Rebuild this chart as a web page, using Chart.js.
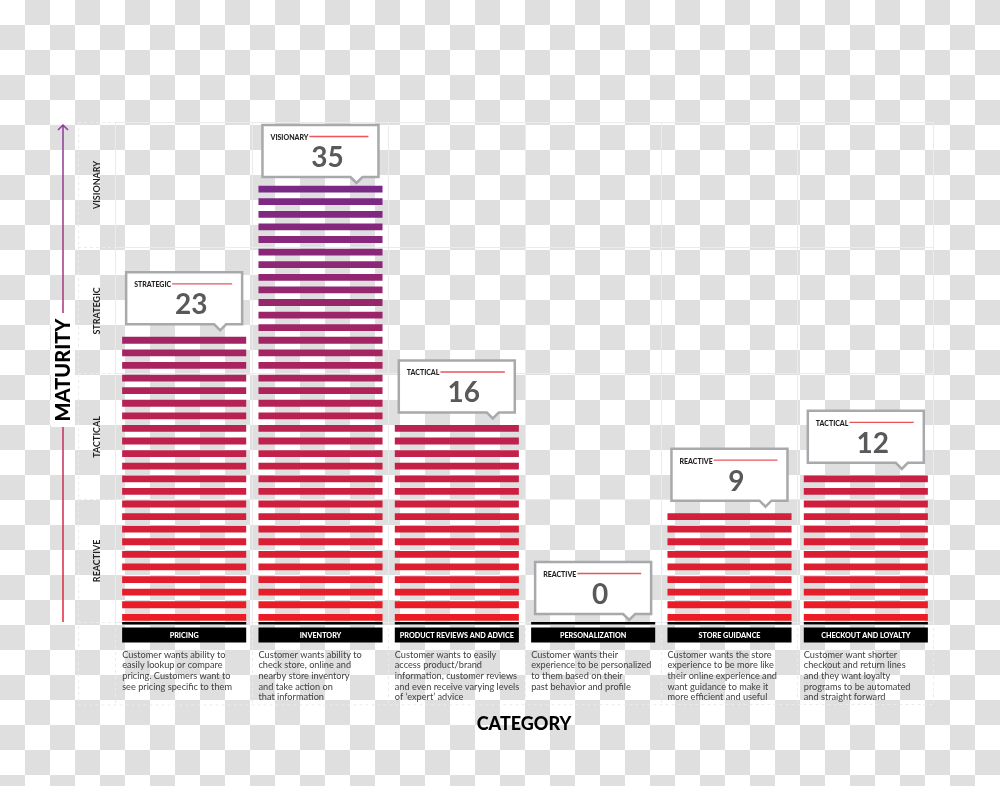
<!DOCTYPE html>
<html>
<head>
<meta charset="utf-8">
<script src="https://cdn.jsdelivr.net/npm/chart.js@4.4.1/dist/chart.umd.min.js"></script>
<style>
  html, body { margin: 0; padding: 0; background: #fff; }
  #wrap { width: 1000px; height: 786px; position: relative; }
</style>
</head>
<body>
<div id="wrap"><canvas id="chart" width="1000" height="786"></canvas></div>
<script>
/* ── Data ── */
const categories = ['PRICING', 'INVENTORY', 'PRODUCT REVIEWS AND ADVICE', 'PERSONALIZATION', 'STORE GUIDANCE', 'CHECKOUT AND LOYALTY'];
const scores = [23, 35, 16, 0, 9, 12];
const stages = ['STRATEGIC', 'VISIONARY', 'TACTICAL', 'REACTIVE', 'REACTIVE', 'TACTICAL'];
const maturityLevels = ['REACTIVE', 'TACTICAL', 'STRATEGIC', 'VISIONARY'];
const levelBounds = [0, 9.7, 19.7, 29.7, 39.7];
const descriptions = [
  ['Customer wants ability to', 'easily lookup or compare', 'pricing. Customers want to', 'see pricing specific to them'],
  ['Customer wants ability to', 'check store, online and', 'nearby store inventory', 'and take action on', 'that information'],
  ['Customer wants to easily', 'access product/brand', 'information, customer reviews', 'and even receive varying levels', 'of \u2018expert\u2019 advice'],
  ['Customer wants their', 'experience to be personalized', 'to them based on their', 'past behavior and profile'],
  ['Customer wants the store', 'experience to be more like', 'their online experience and', 'want guidance to make it', 'more efficient and useful'],
  ['Customer want shorter', 'checkout and return lines', 'and they want loyalty', 'programs to be automated', 'and straight forward']
];

const FONT = "'Lato', 'DejaVu Sans', sans-serif";
const BAR_PCT = 0.91;
const GRID = '#ebebeb';

// stripe colour runs red (bottom) -> purple (top)
function stripeColor(k) {
  const t = Math.min(k / 34, 1);
  const a = [237, 28, 36], b = [122, 41, 135];
  const c = a.map((v, i) => Math.round(v + (b[i] - v) * t));
  return `rgb(${c[0]},${c[1]},${c[2]})`;
}

// one floating-bar dataset per unit level, each bar is one stripe
const maxScore = Math.max(...scores);
const datasets = [];
for (let k = 0; k < maxScore; k++) {
  datasets.push({
    data: scores.map(v => (v > k ? [k + 0.1, k + 0.64] : null)),
    backgroundColor: stripeColor(k),
    borderWidth: 0,
    grouped: false,
    barPercentage: BAR_PCT,
    categoryPercentage: 1,
  });
}

/* ── Plugins ── */
const checkerboard = {
  id: 'checkerboard',
  beforeDraw(chart) {
    const { ctx, width, height } = chart;
    ctx.save();
    ctx.fillStyle = '#fff';
    ctx.fillRect(0, 0, width, height);
    ctx.fillStyle = '#dfdfdf';
    for (let r = 0; r * 25 < height; r++) {
      for (let c = 0; c * 25 < width; c++) {
        if ((r + c) % 2) ctx.fillRect(c * 25, r * 25, 25, 25);
      }
    }
    ctx.restore();
  }
};

const frame = {
  id: 'frame',
  beforeDatasetsDraw(chart) {
    const { ctx, scales: { x, y } } = chart;
    ctx.save();
    ctx.strokeStyle = GRID;
    ctx.lineWidth = 1;
    ctx.setLineDash([3, 3]);
    ctx.beginPath();
    ctx.moveTo(y.left + 0.5, y.top);
    ctx.lineTo(y.left + 0.5, x.bottom);
    ctx.lineTo(x.right, x.bottom - 0.5);
    ctx.stroke();
    ctx.restore();
  }
};

function callout(ctx, left, bottom, stage, value) {
  const w = 116, h = 52, top = bottom - h, px = left + 94;
  ctx.save();
  ctx.beginPath();
  ctx.moveTo(left, top);
  ctx.lineTo(left + w, top);
  ctx.lineTo(left + w, bottom);
  ctx.lineTo(px + 6, bottom);
  ctx.lineTo(px, bottom + 6);
  ctx.lineTo(px - 6, bottom);
  ctx.lineTo(left, bottom);
  ctx.closePath();
  ctx.fillStyle = '#fff';
  ctx.fill();
  ctx.strokeStyle = '#a7a9ac';
  ctx.lineWidth = 2.5;
  ctx.stroke();

  ctx.fillStyle = '#231f20';
  ctx.font = `900 7px ${FONT}`;
  ctx.textAlign = 'left';
  ctx.textBaseline = 'alphabetic';
  ctx.fillText(stage, left + 8, top + 15);
  const tw = ctx.measureText(stage).width;
  ctx.strokeStyle = '#e8545a';
  ctx.lineWidth = 1.3;
  ctx.beginPath();
  ctx.moveTo(left + 9 + tw, top + 11.5);
  ctx.lineTo(left + w - 10, top + 11.5);
  ctx.stroke();

  ctx.fillStyle = '#58595b';
  ctx.font = `bold 28px ${FONT}`;
  ctx.textAlign = 'center';
  ctx.fillText(String(value), left + w / 2 + 7, top + 42);
  ctx.restore();
}

const decorations = {
  id: 'decorations',
  afterDatasetsDraw(chart) {
    const { ctx, scales: { x, y } } = chart;
    const step = x.getPixelForValue(1) - x.getPixelForValue(0);
    const barW = step * BAR_PCT;
    const base = y.getPixelForValue(0);
    ctx.save();

    categories.forEach((cat, i) => {
      const cx = x.getPixelForValue(i);
      const left = cx - barW / 2;
      // baseline + label box
      ctx.fillStyle = '#000';
      ctx.fillRect(left, base, barW, 2.5);
      ctx.fillRect(left, base + 5.5, barW, 15);
      ctx.fillStyle = '#fff';
      ctx.font = `900 7.2px ${FONT}`;
      ctx.textAlign = 'center';
      ctx.textBaseline = 'middle';
      ctx.fillText(cat, cx, base + 13.2);
      // description
      ctx.fillStyle = '#414042';
      ctx.font = `9.2px ${FONT}`;
      ctx.textAlign = 'left';
      ctx.textBaseline = 'alphabetic';
      descriptions[i].forEach((line, j) => ctx.fillText(line, left, base + 35.5 + j * 10.7));
      // value callout, kept inside the plot top
      const bottom = Math.max(y.getPixelForValue(scores[i]) - 8, y.top + 55);
      callout(ctx, left + 4, bottom, stages[i], scores[i]);
    });

    // maturity level labels
    ctx.fillStyle = '#231f20';
    ctx.font = `bold 9px ${FONT}`;
    ctx.textAlign = 'center';
    ctx.textBaseline = 'middle';
    maturityLevels.forEach((lvl, i) => {
      const cy = y.getPixelForValue((levelBounds[i] + levelBounds[i + 1]) / 2);
      ctx.save();
      ctx.translate(97, cy);
      ctx.rotate(-Math.PI / 2);
      ctx.fillText(lvl, 0, 0);
      ctx.restore();
    });

    // maturity arrow
    const ax = 63, aTop = y.top + 3;
    const grad = ctx.createLinearGradient(0, aTop, 0, base);
    grad.addColorStop(0, '#8a3c9b');
    grad.addColorStop(1, '#e3263a');
    ctx.strokeStyle = grad;
    ctx.lineWidth = 1.5;
    ctx.beginPath();
    ctx.moveTo(ax, aTop);
    ctx.lineTo(ax, base);
    ctx.moveTo(ax - 5, aTop + 5);
    ctx.lineTo(ax, aTop);
    ctx.lineTo(ax + 5, aTop + 5);
    ctx.stroke();

    const my = 370;
    ctx.fillStyle = '#fff';
    ctx.fillRect(51, my - 57, 24, 114);
    ctx.fillStyle = '#000';
    ctx.font = `900 20px ${FONT}`;
    ctx.save();
    ctx.translate(63, my);
    ctx.rotate(-Math.PI / 2);
    ctx.fillText('MATURITY', 0, 1);
    ctx.restore();

    // category title
    ctx.font = `900 18px ${FONT}`;
    ctx.textBaseline = 'alphabetic';
    ctx.fillText('CATEGORY', 524, 730);
    ctx.restore();
  }
};

/* ── Chart ── */
new Chart(document.getElementById('chart').getContext('2d'), {
  type: 'bar',
  data: { labels: categories, datasets },
  options: {
    responsive: false,
    animation: false,
    events: [],
    layout: { padding: { left: 78, right: 66, top: 122, bottom: 81 } },
    plugins: { legend: { display: false }, tooltip: { enabled: false } },
    scales: {
      x: {
        offset: true,
        ticks: { display: false },
        border: { display: false },
        grid: {
          offset: true,
          color: GRID,
          borderDash: [3, 3],
          tickBorderDash: [3, 3],
          tickLength: 83,
        },
      },
      y: {
        min: levelBounds[0],
        max: levelBounds[levelBounds.length - 1],
        afterBuildTicks: scale => { scale.ticks = levelBounds.map(v => ({ value: v })); },
        ticks: { display: false },
        border: { display: false },
        grid: {
          color: GRID,
          borderDash: [3, 3],
          tickBorderDash: [3, 3],
          tickLength: 38,
        },
      },
    },
  },
  plugins: [checkerboard, frame, decorations],
});
</script>
</body>
</html>
